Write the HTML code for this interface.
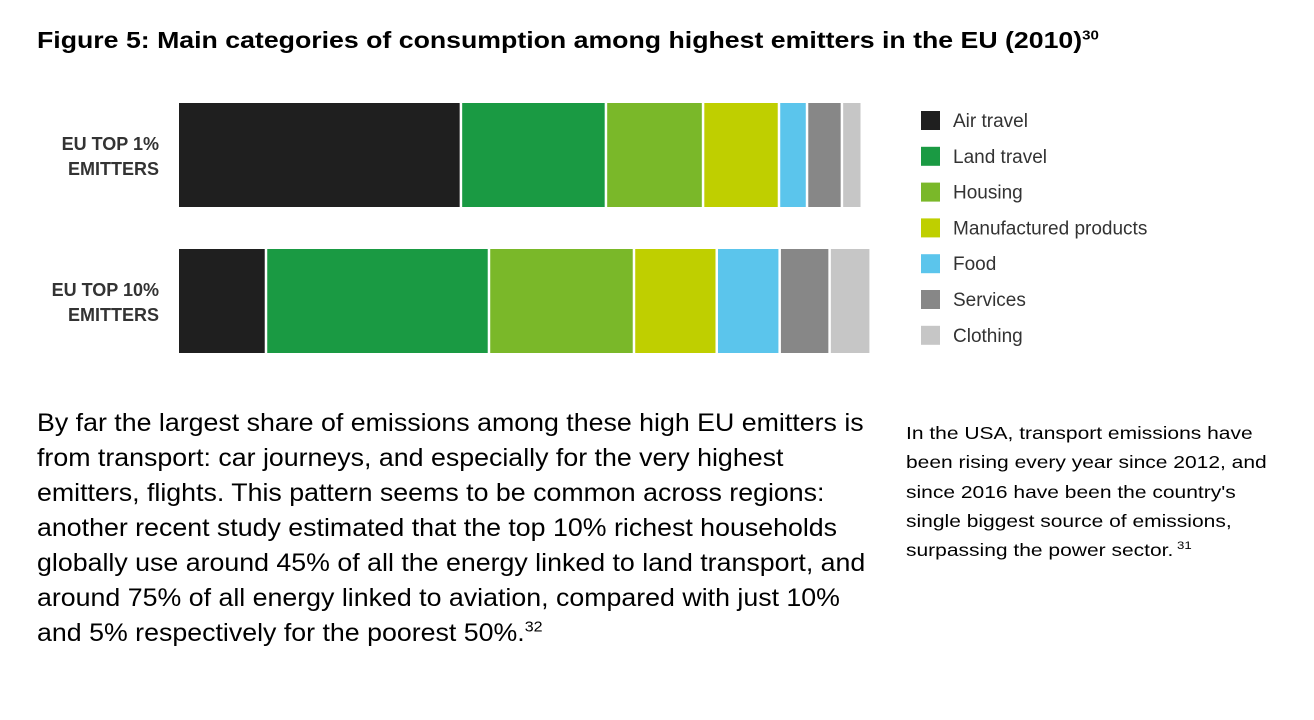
<!DOCTYPE html>
<html><head><meta charset="utf-8"><style>
body{margin:0;width:1314px;height:720px;background:#fff;position:relative;overflow:hidden;font-family:"Liberation Sans",sans-serif;color:#000}
#title{position:absolute;left:37px;top:27px;font-size:23px;font-weight:bold;white-space:nowrap;transform:scaleX(1.16);transform-origin:0 0}
#title sup{font-size:13px}
#body{position:absolute;left:37px;top:406px;font-size:25px;line-height:35px;white-space:nowrap;transform:scaleX(1.07);transform-origin:0 0}
#body sup{font-size:15px;line-height:0}
#side{position:absolute;left:906px;top:419px;font-size:17.5px;line-height:29.3px;white-space:nowrap;transform:scaleX(1.2);transform-origin:0 0}
#side sup{font-size:11px;line-height:0}
</style></head><body>
<div id="title">Figure 5: Main categories of consumption among highest emitters in the EU (2010)<sup>30</sup></div>
<svg id="chart" width="1314" height="380" style="position:absolute;left:0;top:0"></svg>
<div id="body">By far the largest share of emissions among these high EU emitters is<br>from transport: car journeys, and especially for the very highest<br>emitters, flights. This pattern seems to be common across regions:<br>another recent study estimated that the top 10% richest households<br>globally use around 45% of all the energy linked to land transport, and<br>around 75% of all energy linked to aviation, compared with just 10%<br>and 5% respectively for the poorest 50%.<sup>32</sup></div>
<div id="side">In the USA, transport emissions have<br>been rising every year since 2012, and<br>since 2016 have been the country's<br>single biggest source of emissions,<br>surpassing the power sector.<sup> 31</sup></div>
<script>
const categories = ["Air travel","Land travel","Housing","Manufactured products","Food","Services","Clothing"];
const groups = [["EU TOP 1%","EMITTERS"],["EU TOP 10%","EMITTERS"]];
const top1Values = [41.4,21.2,14.2,11.1,4.1,5.1,2.9];
const top10Values = [12.9,32.6,21.2,12.1,9.2,7.3,6.0];
const colors = ["#1f1f1f","#1a9a43","#7ab829","#bfcf00","#5bc5ec","#878787","#c6c6c6"];
const series = [top1Values, top10Values];
const svg = document.getElementById('chart');
const NS = "http://www.w3.org/2000/svg";
const x0 = 179, pxPerUnit = 6.84;
const xScale = v => x0 + v * pxPerUnit;
const barTop = [103, 249], barH = 104;
series.forEach((vals, g) => {
  let acc = 0;
  vals.forEach((v, i) => {
    const r = document.createElementNS(NS, 'rect');
    const xa = xScale(acc), xb = xScale(acc + v);
    r.setAttribute('x', xa);
    r.setAttribute('y', barTop[g]);
    r.setAttribute('width', Math.max(0, xb - xa - 2.5));
    r.setAttribute('height', barH);
    r.setAttribute('fill', colors[i]);
    
    
    svg.appendChild(r);
    acc += v;
  });
  groups[g].forEach((line, k) => {
    const t = document.createElementNS(NS, 'text');
    t.setAttribute('x', 159);
    t.setAttribute('y', barTop[g] + 47 + k * 25);
    t.setAttribute('text-anchor', 'end');
    t.setAttribute('font-family', '"Liberation Sans Narrow","Liberation Sans",sans-serif');
    t.setAttribute('font-weight', 'bold');
    t.setAttribute('font-size', '18');
    t.setAttribute('fill', '#333');
    t.textContent = line;
    
    
    svg.appendChild(t);
  });
});
categories.forEach((c, i) => {
  const y = 111 + i * 35.8;
  const r = document.createElementNS(NS, 'rect');
  r.setAttribute('x', 921); r.setAttribute('y', y);
  r.setAttribute('width', 19); r.setAttribute('height', 19);
  r.setAttribute('fill', colors[i]);
  
  
  svg.appendChild(r);
  const t = document.createElementNS(NS, 'text');
  t.setAttribute('x', 953); t.setAttribute('y', y + 16);
  t.setAttribute('font-family', '"Liberation Sans Narrow","Liberation Sans",sans-serif');
  t.setAttribute('font-size', '19');
  t.setAttribute('fill', '#333');
  t.textContent = c;
  
  
  svg.appendChild(t);
});
</script>
</body></html>
